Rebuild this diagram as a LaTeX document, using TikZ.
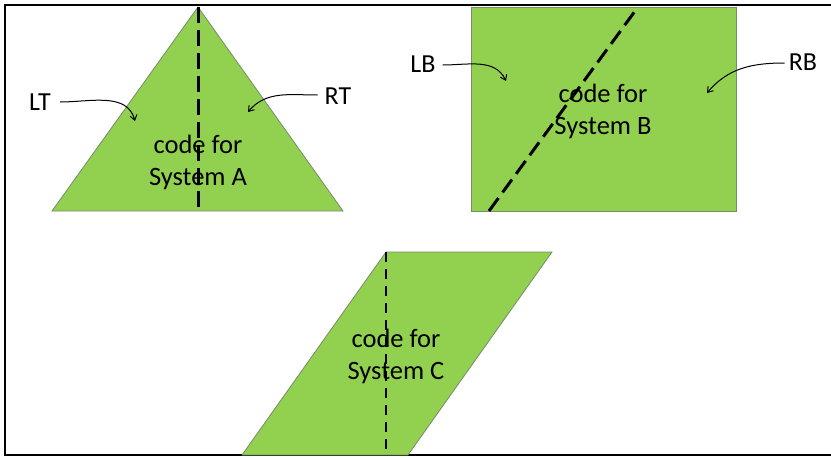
\documentclass[tikz,border=0pt]{standalone}
\usepackage{fontspec}
\setmainfont{Carlito}
\usetikzlibrary{arrows.meta}
\definecolor{leaf}{HTML}{92D050}
\definecolor{edge}{HTML}{7A8A6A}
\tikzset{
  x=1pt, y=-1pt,
  shapefill/.style={fill=leaf, draw=edge, line width=0.8pt},
  splitline/.style={line width=3pt, dash pattern=on 16pt off 7pt},
  splitlinec/.style={line width=2.5pt, dash pattern=on 10pt off 7pt},
  codetext/.style={font=\fontsize{26.5}{32}\selectfont, align=center, inner sep=0pt},
  tag/.style={font=\fontsize{26}{30}\selectfont, inner sep=1pt},
  pointer/.style={line width=1pt, -{Straight Barb[length=5pt,width=7pt]}},
  frameline/.style={line width=2pt}
}
\begin{document}
\begin{tikzpicture}
\useasboundingbox (0,0) rectangle (831,458);
\fill[white] (0,0) rectangle (831,458);
% outer frame, open on the right
\draw[frameline] (840,5) -- (5,5) -- (5,455) -- (840,455);

% System A: triangle split vertically
\coordinate (a1) at (198,7);
\coordinate (a2) at (52,211);
\coordinate (a3) at (343,211);
\coordinate (abase) at (198,211);
\filldraw[shapefill] (a1) -- (a2) -- (a3) -- cycle;
\draw[splitline] (a1) -- (abase);
\node[codetext] (codeA) at (198,162) {code for\\System A};

% System B: rectangle split diagonally
\coordinate (b1) at (471,7);
\coordinate (b2) at (736,211);
\coordinate (btop) at (638,7);
\coordinate (bbot) at (489,211);
\filldraw[shapefill] (b1) rectangle (b2);
\draw[splitline] (bbot) -- (btop);
\node[codetext] (codeB) at (603,111) {code for\\System B};

% System C: parallelogram split vertically
\coordinate (c1) at (386,252);
\coordinate (c2) at (552,252);
\coordinate (c3) at (408,455);
\coordinate (c4) at (242,455);
\coordinate (cbot) at (386,455);
\filldraw[shapefill] (c1) -- (c2) -- (c3) -- (c4) -- cycle;
\draw[splitlinec] (c1) -- (cbot);
\node[codetext] (codeC) at (396,356) {code for\\System C};

% side labels with pointers
\node[tag] (LT) at (40,102) {LT};
\node[tag] (RT) at (338,96) {RT};
\node[tag] (LB) at (423,64) {LB};
\node[tag] (RB) at (803,62) {RB};
\coordinate (ltend) at (135,121);
\coordinate (rtend) at (248,112);
\coordinate (lbend) at (506,81);
\coordinate (rbend) at (707,93);
\draw[pointer] (LT.east) ++(8,0) to[out=0,in=105] (ltend);
\draw[pointer] (RT.west) ++(-6,-1) to[out=180,in=50] (rtend);
\draw[pointer] (LB.east) ++(6,1) to[out=0,in=115] (lbend);
\draw[pointer] (RB.west) ++(-3,1) to[out=180,in=50] (rbend);
\end{tikzpicture}
\end{document}
